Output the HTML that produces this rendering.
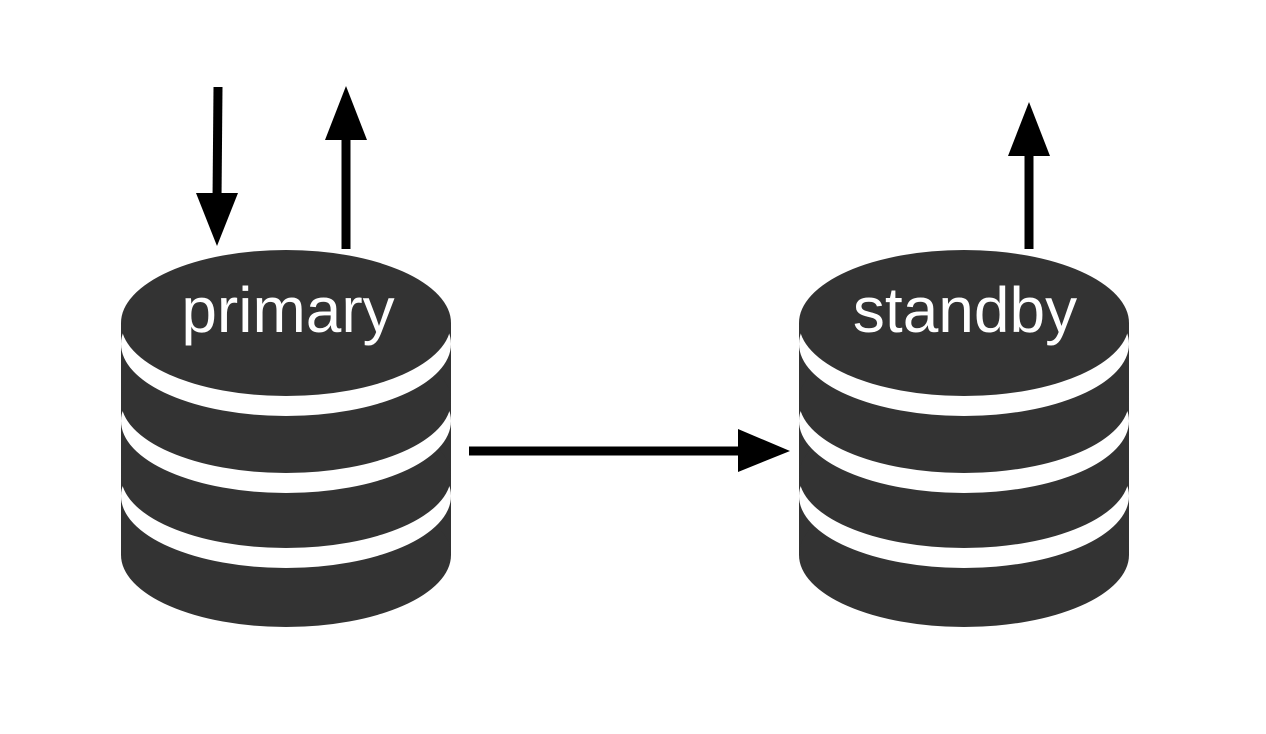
<!DOCTYPE html>
<html><head><style>
html,body{margin:0;padding:0;background:#fff;}
svg{display:block;}
text{font-family:"Liberation Sans",sans-serif;fill:#fff;font-size:64px;}
</style></head><body>
<svg width="1266" height="734" viewBox="0 0 1266 734">
<defs>
<g id="db">
<rect x="-165" y="323" width="330" height="232" fill="#333"/>
<ellipse cx="0" cy="555" rx="165" ry="72" fill="#333"/>
<ellipse cx="0" cy="496" rx="165" ry="72" fill="#fff"/>
<ellipse cx="0" cy="476" rx="165" ry="72" fill="#333"/>
<ellipse cx="0" cy="421" rx="165" ry="72" fill="#fff"/>
<ellipse cx="0" cy="401" rx="165" ry="72" fill="#333"/>
<ellipse cx="0" cy="344" rx="165" ry="72" fill="#fff"/>
<ellipse cx="0" cy="323" rx="165" ry="73" fill="#333"/>
</g>
</defs>
<use href="#db" x="286"/>
<use href="#db" x="964"/>
<text x="288" y="332" text-anchor="middle">primary</text>
<text x="965" y="332" text-anchor="middle">standby</text>
<line x1="218" y1="87" x2="217" y2="200" stroke="#000" stroke-width="9"/>
<polygon points="196,193 238,193 217,246" fill="#000"/>
<line x1="346" y1="249" x2="346" y2="135" stroke="#000" stroke-width="9"/>
<polygon points="325,140 367,140 346,86" fill="#000"/>
<line x1="1029" y1="249" x2="1029" y2="150" stroke="#000" stroke-width="9"/>
<polygon points="1008,156 1050,156 1029,102" fill="#000"/>
<line x1="469" y1="451" x2="745" y2="451" stroke="#000" stroke-width="9"/>
<polygon points="738,429 738,472 790,451" fill="#000"/>
</svg>
</body></html>
